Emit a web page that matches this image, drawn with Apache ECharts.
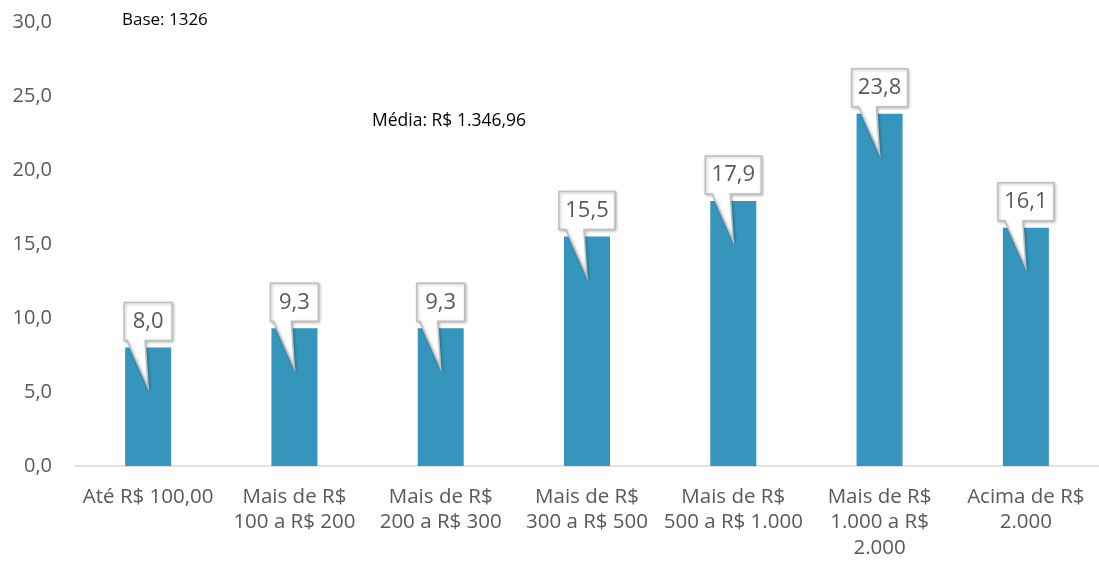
<!DOCTYPE html>
<html><head><meta charset="utf-8">
<script src="https://cdn.jsdelivr.net/npm/echarts@6/dist/echarts.min.js"></script>
<style>html,body{margin:0;padding:0;background:#fff}#c{width:1099px;height:566px}</style>
</head><body><div id="c"></div>
<script>
var categories = ["Até R$ 100,00", "Mais de R$\n100 a R$ 200", "Mais de R$\n200 a R$ 300", "Mais de R$\n300 a R$ 500", "Mais de R$\n500 a R$ 1.000", "Mais de R$\n1.000 a R$\n2.000", "Acima de R$\n2.000"];
var values = [8.0, 9.3, 9.3, 15.5, 17.9, 23.8, 16.1];
var baseText = "Base: 1326";
var mediaText = "Média: R$ 1.346,96";
var FONT = "'Open Sans', sans-serif";
function fmt(v){ return v.toFixed(1).replace('.', ','); }

var chart = echarts.init(document.getElementById('c'));
chart.setOption({
  animation: false,
  grid: {left: 75, top: 22, width: 1027, bottom: 100},
  xAxis: {
    type: 'category', data: categories,
    axisLine: {lineStyle: {color: '#d9d9d9', width: 1.5}},
    axisTick: {show: false},
    axisLabel: {color: '#595959', fontSize: 20.5, fontFamily: FONT, lineHeight: 25.5, margin: 18, interval: 0}
  },
  yAxis: {
    type: 'value', min: 0, max: 30, interval: 5,
    axisLine: {show: false}, axisTick: {show: false}, splitLine: {show: false},
    axisLabel: {color: '#595959', fontSize: 20, fontFamily: FONT, margin: 23, formatter: fmt}
  },
  graphic: [
    {type: 'text', x: 122, y: 20, style: {text: baseText, fill: '#000', font: '17px ' + FONT, verticalAlign: 'middle'}},
    {type: 'text', x: 372, y: 121, style: {text: mediaText, fill: '#000', font: '17.5px ' + FONT, verticalAlign: 'middle'}}
  ],
  series: [
    {type: 'bar', data: values, barWidth: 46, itemStyle: {color: '#3595bc'}},
    {type: 'custom', data: values.map(function(v, i){ return [i, v]; }), z: 10,
      renderItem: function(params, api){
        var i = api.value(0), v = api.value(1);
        var p = api.coord([i, v]);
        var cx = p[0], y = p[1];
        var txt = fmt(v);
        var w = txt.length > 3 ? 56 : 48;
        var L = cx - w/2, R = cx + w/2, T = y - 45, B = y - 7;
        var pts = [[L,T],[R,T],[R,B],[cx-3,B],[cx,y+40],[cx-21,B],[L,B]];
        return {type: 'group', children: [
          {type: 'polygon', shape: {points: pts},
           style: {fill: '#fff', stroke: '#bfbfbf', lineWidth: 1.5, shadowBlur: 3, shadowColor: 'rgba(0,0,0,0.25)', shadowOffsetX: 1, shadowOffsetY: 1}},
          {type: 'text', x: cx, y: (T+B)/2, style: {text: txt, fill: '#595959', font: '22px ' + FONT, align: 'center', verticalAlign: 'middle'}}
        ]};
      }
    }
  ]
});
</script></body></html>
